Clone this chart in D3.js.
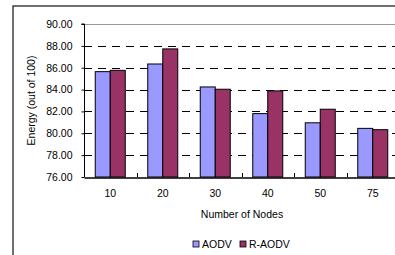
<!DOCTYPE html>
<html><head><meta charset="utf-8">
<script src="https://cdn.jsdelivr.net/npm/d3@7/dist/d3.min.js"></script>
<style>body{margin:0;background:#fff;overflow:hidden}svg{display:block;font-family:"Liberation Sans",Arial,sans-serif}</style>
</head><body>
<script>
const categories = ["10","20","30","40","50","75"];
const seriesNames = ["AODV","R-AODV"];
const aodv = [85.64, 86.34, 84.24, 81.80, 80.96, 80.45];
const raodv = [85.76, 87.72, 84.03, 83.88, 82.20, 80.33];
const yTicks = [76,78,80,82,84,86,88,90];
const colors = ["#9999FF","#993366"];

const W=395,H=255;
const svg=d3.select("body").append("svg").attr("width",W).attr("height",H);
// outer frame
svg.append("rect").attr("x",13).attr("y",6).attr("width",W+10).attr("height",H+10)
  .attr("fill","#fff").attr("stroke","#222").attr("stroke-width",1.3);

const L=84,T=24,B=177,R=399;
const x=d3.scaleBand().domain(categories).range([L,R]);
const y=d3.scaleLinear().domain([76,90]).range([B,T]);

// gridlines
svg.append("g").selectAll("line").data(yTicks.filter(v=>v>76&&v<90)).join("line")
  .attr("x1",L).attr("x2",R).attr("y1",d=>Math.round(y(d))+0.5).attr("y2",d=>Math.round(y(d))+0.5)
  .attr("stroke","#000").attr("stroke-dasharray","8,6");
svg.append("line").attr("x1",L).attr("x2",R).attr("y1",Math.round(y(90))+0.5).attr("y2",Math.round(y(90))+0.5)
  .attr("stroke","#999").attr("stroke-width",1);

// bars
const data=categories.map((c,i)=>({c,vals:[aodv[i],raodv[i]]}));
const inner=d3.scaleBand().domain([0,1]).range([0,30]);
const g=svg.append("g");
data.forEach(d=>{
  const gx=x(d.c)+(x.bandwidth()-30)/2;
  d.vals.forEach((v,j)=>{
    g.append("rect").attr("x",gx+inner(j)).attr("y",y(v)).attr("width",inner.bandwidth())
     .attr("height",y(76)-y(v)).attr("fill",colors[j]).attr("stroke","#000").attr("stroke-width",1);
  });
});

// y axis
const ya=svg.append("g").attr("transform",`translate(${L+0.5},0)`)
  .call(d3.axisLeft(y).tickValues(yTicks).tickFormat(d3.format(".2f")).tickSize(3).tickPadding(9));
ya.select(".domain").attr("stroke","#000").attr("d",`M-3,${T}H0V${B}`);
ya.selectAll("text").attr("font-size",10.5).attr("fill","#000").attr("font-family","Liberation Sans, Arial");
ya.selectAll(".tick line").attr("stroke","#000");

// x axis
const xa=svg.append("g").attr("transform",`translate(0,${B+0.5})`)
  .call(d3.axisBottom(x).tickSize(0).tickPadding(12));
xa.select(".domain").attr("stroke","#000").attr("stroke-width",1.3);
xa.selectAll("text").attr("font-size",10.5).attr("fill","#000").attr("font-family","Liberation Sans, Arial");
// category separators ticks (inside, upward)
svg.append("g").selectAll("line").data(categories.slice(1)).join("line")
  .attr("x1",d=>Math.round(x(d))+0.5).attr("x2",d=>Math.round(x(d))+0.5)
  .attr("y1",B).attr("y2",B-4).attr("stroke","#000");

// titles
svg.append("text").attr("transform",`translate(35,${(T+B)/2}) rotate(-90)`).attr("text-anchor","middle")
  .attr("font-size",10.5).text("Energy (out of 100)");
svg.append("text").attr("x",242).attr("y",218).attr("text-anchor","middle").attr("font-size",10.5).text("Number of Nodes");

// legend
const lg=svg.append("g");
const lx=[193,240];
seriesNames.forEach((n,i)=>{
  lg.append("rect").attr("x",lx[i]).attr("y",241).attr("width",6).attr("height",6)
    .attr("fill",colors[i]).attr("stroke","#000").attr("stroke-width",0.8);
  lg.append("text").attr("x",lx[i]+9).attr("y",248).attr("font-size",10.5).text(n);
});
</script>
</body></html>
